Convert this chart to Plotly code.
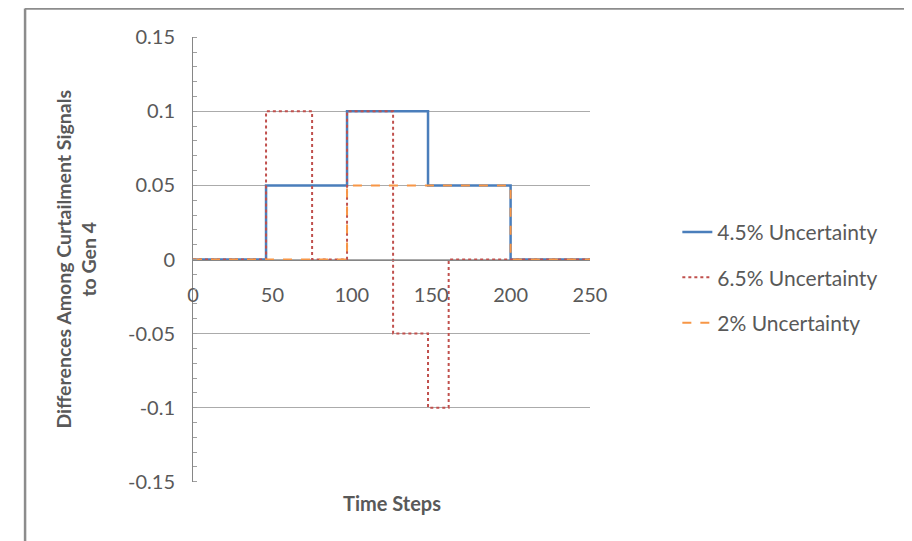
import plotly.graph_objects as go

# ---- data ----
x_45 = [0, 46, 97, 148, 200, 250]
y_45 = [0, 0.05, 0.1, 0.05, 0, 0]

x_65 = [0, 46, 75, 97, 126, 148, 161, 250]
y_65 = [0, 0.1, 0, 0.1, -0.05, -0.1, 0, 0]

x_2 = [0, 97, 200, 250]
y_2 = [0, 0.05, 0, 0]

series_names = ["4.5% Uncertainty", "6.5% Uncertainty", "2% Uncertainty"]

ytick_vals = [0.15, 0.1, 0.05, 0, -0.05, -0.1, -0.15]
ytick_text = ["0.15", "0.1", "0.05", "0", "-0.05", "-0.1", "-0.15"]
xtick_vals = [0, 50, 100, 150, 200, 250]
xtick_text = ["0", "50", "100", "150", "200", "250"]

FONT = "Lato"
TXT = "#595959"

fig = go.Figure()
fig.add_trace(go.Scatter(x=x_45, y=y_45, mode="lines", line_shape="hv",
                         name=series_names[0], legendgroup="a",
                         line=dict(color="#4A7EBB", width=2.5)))
fig.add_trace(go.Scatter(x=x_65, y=y_65, mode="lines", line_shape="hv",
                         name=series_names[1], legendgroup="b",
                         line=dict(color="#C0504D", width=2, dash="dot")))
fig.add_trace(go.Scatter(x=x_2, y=y_2, mode="lines", line_shape="hv",
                         name=series_names[2], legendgroup="c",
                         line=dict(color="#F79646", width=2, dash="dash")))

fig.update_layout(
    width=912, height=541,
    margin=dict(l=185, r=330, t=29, b=67),
    paper_bgcolor="white", plot_bgcolor="white",
    font=dict(family=FONT, color=TXT, size=19),
    showlegend=True,
    legend=dict(x=1.22, y=0.607, xanchor="left", yanchor="top",
                font=dict(size=21, color=TXT, family=FONT),
                tracegroupgap=15, bgcolor="rgba(0,0,0,0)"),
    xaxis=dict(range=[0, 250], tickvals=xtick_vals, ticktext=xtick_text,
               anchor="free", position=0.5,
               showgrid=False, zeroline=False,
               showline=True, linecolor="#868686", linewidth=1,
               ticks="outside", ticklen=17, tickcolor="rgba(0,0,0,0)",
               tickfont=dict(size=20, color=TXT, family=FONT)),
    yaxis=dict(range=[-0.1502, 0.1502], tickvals=ytick_vals, ticktext=ytick_text,
               showgrid=True, gridcolor="#ABABAB", gridwidth=1.3,
               zeroline=False,
               showline=True, linecolor="#868686", linewidth=1,
               ticks="outside", ticklen=13, tickcolor="rgba(0,0,0,0)",
               minor=dict(dtick=0.01, ticks="inside", ticklen=4,
                          tickcolor="#A0A0A0", showgrid=False),
               tickfont=dict(size=20, color=TXT, family=FONT)),
    annotations=[
        dict(text="<b>Time Steps</b>", xref="paper", yref="paper",
             x=0.5, y=-0.047, xanchor="center", yanchor="middle",
             showarrow=False, font=dict(size=20, color=TXT, family=FONT)),
        dict(text="<b>Differences Among Curtailment Signals<br>to Gen 4</b>",
             xref="paper", yref="paper", x=-0.297, y=0.5,
             xanchor="center", yanchor="middle", textangle=-90,
             showarrow=False, font=dict(size=19.5, color=TXT, family=FONT)),
    ],
    shapes=[
        dict(type="line", xref="paper", yref="paper",
             x0=-0.423, x1=1.85, y0=1.064, y1=1.064,
             line=dict(color="#8C8C8C", width=2.5)),
        dict(type="line", xref="paper", yref="paper",
             x0=-0.423, x1=-0.423, y0=1.064, y1=-0.2,
             line=dict(color="#8C8C8C", width=2.5)),
    ],
)

fig.write_html("out.html")
